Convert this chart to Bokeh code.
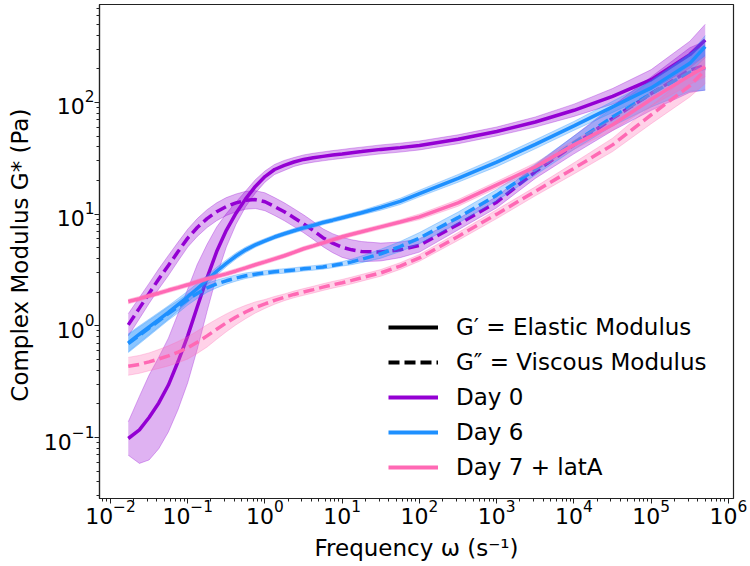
import numpy as np
from bokeh.plotting import figure
from bokeh.models import ColumnDataSource, Legend, LegendItem
from bokeh.embed import file_html
from bokeh.resources import INLINE

# ---------------- data ----------------
freq = [0.017, 0.0237, 0.0316, 0.0422, 0.0562, 0.075, 0.1, 0.133, 0.178, 0.237,
        0.316, 0.422, 0.562, 0.75, 1.0, 1.33, 1.78, 2.37, 3.16, 4.22,
        5.62, 7.5, 10, 13.3, 17.8, 31.6, 56.2, 100, 316, 1000,
        3160, 10000, 31600, 100000, 316000, 500000]

day0_Gp = [0.098, 0.117, 0.151, 0.204, 0.295, 0.479, 0.813, 1.48, 2.69, 4.62,
           7.16, 10.2, 13.7, 17.7, 21.7, 25.1, 27.3, 29.3, 30.9, 32.0,
           32.9, 33.8, 34.6, 35.5, 36.3, 38.0, 39.4, 41.2, 46.8, 55.0,
           66.8, 85.1, 113.5, 160, 268, 363]
day0_Gpp = [1.02, 1.44, 1.95, 2.63, 3.47, 4.62, 6.1, 7.59, 9.12, 10.5,
            11.7, 12.6, 13.3, 13.5, 12.9, 11.7, 10.5, 9.3, 8.2, 7.14,
            6.15, 5.5, 5.04, 4.79, 4.62, 4.58, 4.79, 5.25, 8.1, 12.8,
            24, 41.7, 72, 120, 195, 214]
day6_Gp = [0.705, 0.841, 0.977, 1.135, 1.318, 1.55, 1.82, 2.16, 2.57, 3.08,
           3.63, 4.22, 4.79, 5.31, 5.77, 6.24, 6.67, 7.1, 7.53, 7.94,
           8.41, 8.83, 9.29, 9.77, 10.3, 11.5, 13.0, 15.3, 20.9, 29.2,
           42.2, 61.7, 91.2, 135, 224, 316]
day6_Gpp = [0.692, 0.822, 0.955, 1.109, 1.29, 1.48, 1.72, 1.95, 2.19, 2.37,
            2.53, 2.68, 2.81, 2.90, 2.98, 3.05, 3.10, 3.16, 3.24, 3.30,
            3.37, 3.47, 3.59, 3.74, 3.94, 4.42, 5.13, 6.1, 9.3, 14.8,
            25.1, 43.6, 74, 120, 186, 204]
day7_Gp = [1.65, 1.75, 1.86, 1.96, 2.08, 2.20, 2.33, 2.48, 2.64, 2.77,
           2.92, 3.10, 3.30, 3.52, 3.74, 3.98, 4.24, 4.55, 4.90, 5.20,
           5.53, 5.89, 6.27, 6.61, 6.95, 7.69, 8.51, 9.46, 12.6, 18.3,
           26.5, 41.7, 63.1, 107, 174, 209]
day7_Gpp = [0.434, 0.452, 0.476, 0.505, 0.538, 0.582, 0.635, 0.713, 0.813, 0.933,
            1.064, 1.20, 1.33, 1.46, 1.57, 1.69, 1.80, 1.91, 2.01, 2.11,
            2.22, 2.33, 2.43, 2.55, 2.69, 2.98, 3.43, 4.06, 6.31, 10.0,
            16.0, 25.7, 41.7, 77.6, 141, 195]

# half-widths of the shaded bands (decades)
day0_Gp_err = [0.15, 0.3, 0.38, 0.41, 0.42, 0.43, 0.42, 0.38, 0.3, 0.22,
               0.15, 0.1, 0.07, 0.06, 0.05, 0.045, 0.045, 0.04, 0.04, 0.04,
               0.04, 0.04, 0.04, 0.04, 0.04, 0.04, 0.04, 0.04, 0.04, 0.04,
               0.045, 0.055, 0.07, 0.09, 0.12, 0.14]
day0_Gpp_err = [0.1, 0.095, 0.09, 0.09, 0.09, 0.085, 0.08, 0.08, 0.08, 0.08,
                0.08, 0.08, 0.08, 0.08, 0.08, 0.08, 0.08, 0.08, 0.08, 0.08,
                0.08, 0.085, 0.09, 0.09, 0.09, 0.08, 0.07, 0.06, 0.05, 0.05,
                0.06, 0.08, 0.11, 0.15, 0.2, 0.22]
day6_Gp_err = [0.08, 0.075, 0.07, 0.065, 0.06, 0.055, 0.05, 0.045, 0.04, 0.035,
               0.03, 0.028, 0.025, 0.022, 0.02, 0.02, 0.02, 0.02, 0.02, 0.02,
               0.02, 0.02, 0.02, 0.02, 0.02, 0.025, 0.028, 0.03, 0.035, 0.04,
               0.04, 0.04, 0.05, 0.06, 0.08, 0.1]
day6_Gpp_err = [0.08, 0.075, 0.07, 0.065, 0.06, 0.055, 0.05, 0.045, 0.04, 0.035,
                0.03, 0.028, 0.025, 0.022, 0.02, 0.02, 0.02, 0.02, 0.02, 0.02,
                0.02, 0.02, 0.02, 0.025, 0.03, 0.04, 0.045, 0.05, 0.05, 0.05,
                0.05, 0.06, 0.08, 0.12, 0.17, 0.2]
day7_Gp_err = [0.02, 0.02, 0.02, 0.02, 0.02, 0.02, 0.02, 0.02, 0.02, 0.02,
               0.02, 0.02, 0.02, 0.02, 0.02, 0.02, 0.02, 0.02, 0.02, 0.02,
               0.02, 0.02, 0.02, 0.02, 0.02, 0.02, 0.02, 0.025, 0.03, 0.03,
               0.035, 0.04, 0.05, 0.06, 0.08, 0.09]
day7_Gpp_err = [0.08, 0.08, 0.08, 0.085, 0.09, 0.095, 0.1, 0.1, 0.1, 0.09,
                0.08, 0.07, 0.06, 0.05, 0.04, 0.035, 0.03, 0.03, 0.03, 0.03,
                0.03, 0.03, 0.03, 0.03, 0.03, 0.03, 0.03, 0.03, 0.035, 0.04,
                0.04, 0.05, 0.06, 0.08, 0.1, 0.12]

series_labels = ["Day 0", "Day 6", "Day 7 + latA"]
colors = ["#9400D3", "#1E90FF", "#FF69B4"]

FONT = "DejaVu Sans"

p = figure(width=750, height=566, x_axis_type="log", y_axis_type="log",
           x_range=(10 ** -2.142, 10 ** 6.065), y_range=(10 ** -1.546, 10 ** 2.877),
           output_backend="svg", toolbar_location=None, title=None,
           min_border_left=99, min_border_right=17, min_border_top=4, min_border_bottom=68)

p.xgrid.visible = False
p.ygrid.visible = False
p.outline_line_color = "#222222"
p.outline_line_width = 1.2
p.background_fill_color = "white"
p.border_fill_color = "white"

for ax in (p.xaxis[0], p.yaxis[0]):
    ax.axis_line_color = "#222222"
    ax.axis_line_width = 1.2
    ax.major_tick_in = 0
    ax.major_tick_out = 5
    ax.minor_tick_in = 0
    ax.minor_tick_out = 3
    ax.major_tick_line_color = "#222222"
    ax.minor_tick_line_color = "#222222"
    ax.major_label_text_font = FONT
    ax.major_label_text_font_size = "22px"
    ax.major_label_text_color = "black"
    ax.axis_label_text_font = FONT
    ax.axis_label_text_font_size = "23px"
    ax.axis_label_text_font_style = "normal"
    ax.axis_label_text_color = "black"

p.xaxis.axis_label = "Frequency \u03c9 (s\u207b\u00b9)"
p.yaxis.axis_label = "Complex Modulus G*  (Pa)"
p.xaxis.major_label_standoff = -4
p.yaxis.major_label_standoff = 0
p.xaxis.axis_label_standoff = 8
p.yaxis.axis_label_standoff = 8

x = np.array(freq, dtype=float)
datasets = [
    (day0_Gp, day0_Gp_err, day0_Gpp, day0_Gpp_err),
    (day6_Gp, day6_Gp_err, day6_Gpp, day6_Gpp_err),
    (day7_Gp, day7_Gp_err, day7_Gpp, day7_Gpp_err),
]

for (gp, gpe, gpp, gppe), col in zip(datasets, colors):
    for vals, errs, dash in ((gp, gpe, "solid"), (gpp, gppe, "11 5")):
        v = np.array(vals, dtype=float)
        e = np.array(errs, dtype=float)
        src = ColumnDataSource(dict(x=x, y=v, lo=v / 10 ** e, hi=v * 10 ** e))
        p.varea(x="x", y1="lo", y2="hi", source=src, fill_color=col, fill_alpha=0.3)
        p.line(x="x", y="lo", source=src, line_color=col, line_alpha=0.3, line_width=1)
        p.line(x="x", y="hi", source=src, line_color=col, line_alpha=0.3, line_width=1)
        p.line(x="x", y="y", source=src, line_color=col, line_width=3.5, line_dash=dash)

# legend proxies: a tiny segment far outside the visible range
proxy = ColumnDataSource(dict(x=[1e-9, 2e-9], y=[1e-9, 1e-9]))
r_solid = p.line(x="x", y="y", source=proxy, line_color="black", line_width=4)
r_dash = p.line(x="x", y="y", source=proxy, line_color="black", line_width=4, line_dash="11 5")
r_cols = [p.line(x="x", y="y", source=proxy, line_color=c, line_width=4) for c in colors]

items = [LegendItem(label="G\u2032 = Elastic Modulus", renderers=[r_solid]),
         LegendItem(label="G\u2033 = Viscous Modulus", renderers=[r_dash])]
items += [LegendItem(label=lab, renderers=[r]) for lab, r in zip(series_labels, r_cols)]

legend = Legend(items=items, location=(289, 18), padding=0, margin=0,
                border_line_alpha=0, background_fill_alpha=0,
                label_text_font=FONT, label_text_font_size="23px", label_text_color="black",
                glyph_width=50, glyph_height=20, label_standoff=18, spacing=9)
p.add_layout(legend, "center")

open("out.html", "w").write(file_html(p, INLINE))
